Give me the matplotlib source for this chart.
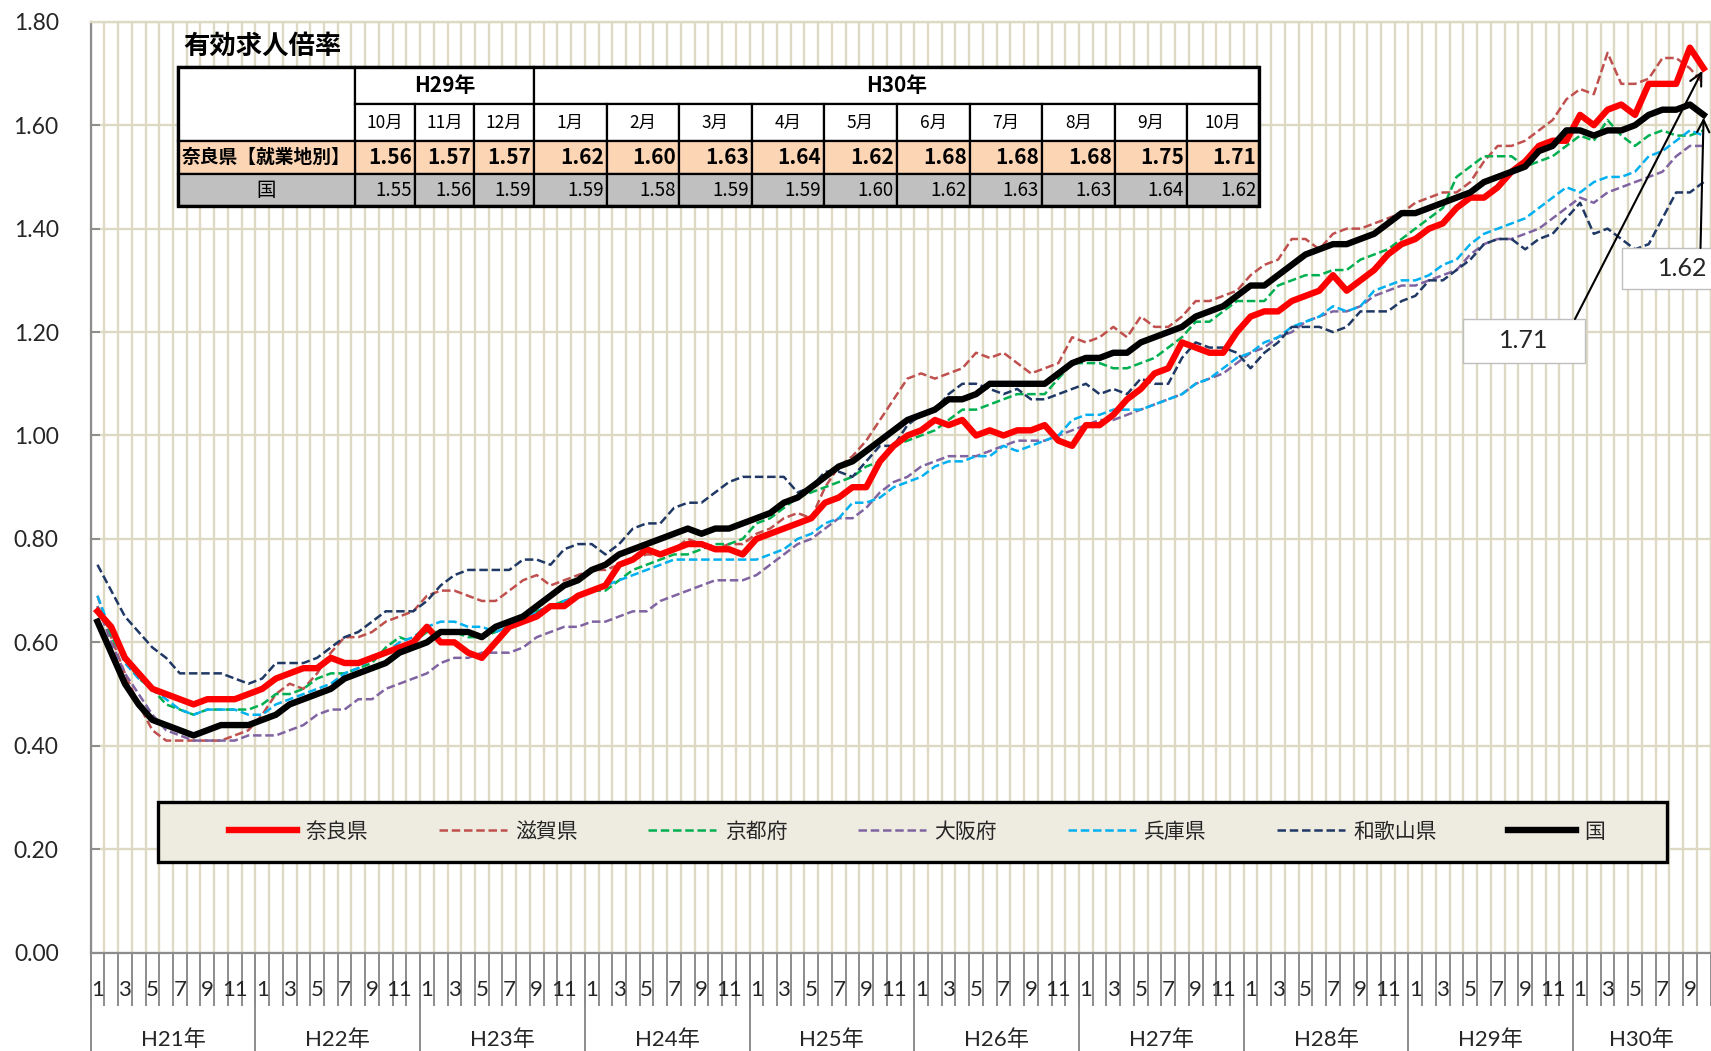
import numpy as np
import matplotlib
matplotlib.use("Agg")
import matplotlib.pyplot as plt
from matplotlib.patches import Rectangle
from matplotlib.ticker import FormatStrFormatter, FixedLocator

plt.rcParams['font.family'] = ['Lato', 'Noto Sans CJK JP', 'DejaVu Sans']
JP = ['Noto Sans CJK JP', 'DejaVu Sans']

# ---------------- data ----------------
years = ['H21年', 'H22年', 'H23年', 'H24年', 'H25年', 'H26年', 'H27年', 'H28年', 'H29年', 'H30年']
months_in_year = [12, 12, 12, 12, 12, 12, 12, 12, 12, 10]
month_numbers = [m for n in months_in_year for m in range(1, n + 1)]

nara = [0.66, 0.63, 0.57, 0.54, 0.51, 0.50, 0.49, 0.48, 0.49, 0.49, 0.49, 0.50,
        0.51, 0.53, 0.54, 0.55, 0.55, 0.57, 0.56, 0.56, 0.57, 0.58, 0.59, 0.60,
        0.63, 0.60, 0.60, 0.58, 0.57, 0.60, 0.63, 0.64, 0.65, 0.67, 0.67, 0.69,
        0.70, 0.71, 0.75, 0.76, 0.78, 0.77, 0.78, 0.79, 0.79, 0.78, 0.78, 0.77,
        0.80, 0.81, 0.82, 0.83, 0.84, 0.87, 0.88, 0.90, 0.90, 0.95, 0.98, 1.00,
        1.01, 1.03, 1.02, 1.03, 1.00, 1.01, 1.00, 1.01, 1.01, 1.02, 0.99, 0.98,
        1.02, 1.02, 1.04, 1.07, 1.09, 1.12, 1.13, 1.18, 1.17, 1.16, 1.16, 1.20,
        1.23, 1.24, 1.24, 1.26, 1.27, 1.28, 1.31, 1.28, 1.30, 1.32, 1.35, 1.37,
        1.38, 1.40, 1.41, 1.44, 1.46, 1.46, 1.48, 1.51, 1.53, 1.56, 1.57, 1.57,
        1.62, 1.60, 1.63, 1.64, 1.62, 1.68, 1.68, 1.68, 1.75, 1.71]

shiga = [0.69, 0.61, 0.54, 0.48, 0.43, 0.41, 0.41, 0.41, 0.41, 0.41, 0.42, 0.43,
         0.46, 0.50, 0.52, 0.51, 0.54, 0.58, 0.61, 0.61, 0.62, 0.64, 0.65, 0.66,
         0.69, 0.70, 0.70, 0.69, 0.68, 0.68, 0.70, 0.72, 0.73, 0.71, 0.72, 0.73,
         0.74, 0.74, 0.75, 0.76, 0.77, 0.77, 0.78, 0.80, 0.79, 0.78, 0.79, 0.79,
         0.81, 0.82, 0.84, 0.85, 0.84, 0.90, 0.94, 0.96, 0.99, 1.03, 1.07, 1.11,
         1.12, 1.11, 1.12, 1.13, 1.16, 1.15, 1.16, 1.14, 1.12, 1.13, 1.14, 1.19,
         1.18, 1.19, 1.21, 1.19, 1.23, 1.21, 1.21, 1.23, 1.26, 1.26, 1.27, 1.28,
         1.31, 1.33, 1.34, 1.38, 1.38, 1.36, 1.39, 1.40, 1.40, 1.41, 1.42, 1.43,
         1.45, 1.46, 1.47, 1.47, 1.49, 1.53, 1.56, 1.56, 1.57, 1.59, 1.61, 1.65,
         1.67, 1.66, 1.74, 1.68, 1.68, 1.69, 1.73, 1.73, 1.71, 1.68]

kyoto = [0.67, 0.61, 0.57, 0.53, 0.51, 0.48, 0.47, 0.46, 0.47, 0.47, 0.47, 0.47,
         0.48, 0.50, 0.50, 0.51, 0.53, 0.54, 0.54, 0.55, 0.56, 0.59, 0.61, 0.60,
         0.62, 0.62, 0.62, 0.61, 0.61, 0.62, 0.63, 0.64, 0.66, 0.67, 0.68, 0.69,
         0.70, 0.70, 0.72, 0.74, 0.75, 0.76, 0.77, 0.77, 0.78, 0.79, 0.79, 0.80,
         0.83, 0.84, 0.86, 0.88, 0.89, 0.90, 0.91, 0.92, 0.94, 0.95, 0.98, 0.99,
         1.00, 1.01, 1.03, 1.05, 1.05, 1.06, 1.07, 1.08, 1.08, 1.08, 1.11, 1.14,
         1.14, 1.14, 1.13, 1.13, 1.14, 1.15, 1.17, 1.19, 1.22, 1.22, 1.24, 1.26,
         1.26, 1.26, 1.29, 1.30, 1.31, 1.31, 1.32, 1.32, 1.34, 1.35, 1.36, 1.38,
         1.40, 1.42, 1.44, 1.50, 1.52, 1.54, 1.54, 1.54, 1.52, 1.53, 1.54, 1.56,
         1.58, 1.57, 1.61, 1.58, 1.56, 1.58, 1.59, 1.58, 1.58, 1.59]

osaka = [0.67, 0.60, 0.54, 0.50, 0.46, 0.43, 0.42, 0.41, 0.41, 0.41, 0.41, 0.42,
         0.42, 0.42, 0.43, 0.44, 0.46, 0.47, 0.47, 0.49, 0.49, 0.51, 0.52, 0.53,
         0.54, 0.56, 0.57, 0.57, 0.58, 0.58, 0.58, 0.59, 0.61, 0.62, 0.63, 0.63,
         0.64, 0.64, 0.65, 0.66, 0.66, 0.68, 0.69, 0.70, 0.71, 0.72, 0.72, 0.72,
         0.73, 0.75, 0.77, 0.79, 0.80, 0.82, 0.84, 0.84, 0.86, 0.89, 0.91, 0.92,
         0.94, 0.95, 0.96, 0.96, 0.96, 0.97, 0.98, 0.99, 0.99, 0.99, 1.00, 1.01,
         1.02, 1.03, 1.03, 1.04, 1.05, 1.06, 1.07, 1.08, 1.10, 1.11, 1.12, 1.14,
         1.16, 1.17, 1.19, 1.20, 1.22, 1.23, 1.24, 1.24, 1.25, 1.27, 1.28, 1.29,
         1.29, 1.30, 1.31, 1.32, 1.35, 1.37, 1.38, 1.38, 1.39, 1.40, 1.42, 1.44,
         1.46, 1.45, 1.47, 1.48, 1.49, 1.50, 1.51, 1.54, 1.56, 1.56]

hyogo = [0.69, 0.62, 0.56, 0.53, 0.51, 0.49, 0.47, 0.46, 0.47, 0.47, 0.47, 0.46,
         0.46, 0.48, 0.49, 0.50, 0.51, 0.52, 0.54, 0.55, 0.57, 0.58, 0.60, 0.61,
         0.63, 0.64, 0.64, 0.63, 0.63, 0.62, 0.63, 0.64, 0.66, 0.67, 0.68, 0.69,
         0.70, 0.71, 0.72, 0.73, 0.74, 0.75, 0.76, 0.76, 0.76, 0.76, 0.76, 0.76,
         0.76, 0.77, 0.78, 0.80, 0.81, 0.83, 0.84, 0.87, 0.87, 0.88, 0.90, 0.91,
         0.92, 0.94, 0.95, 0.95, 0.96, 0.96, 0.98, 0.97, 0.98, 0.99, 1.00, 1.03,
         1.04, 1.04, 1.05, 1.05, 1.05, 1.06, 1.07, 1.08, 1.10, 1.11, 1.13, 1.15,
         1.16, 1.18, 1.19, 1.21, 1.22, 1.23, 1.25, 1.24, 1.25, 1.28, 1.29, 1.30,
         1.30, 1.31, 1.33, 1.34, 1.37, 1.39, 1.40, 1.41, 1.42, 1.44, 1.46, 1.48,
         1.47, 1.49, 1.50, 1.50, 1.51, 1.54, 1.55, 1.57, 1.59, 1.58]

wakayama = [0.75, 0.70, 0.65, 0.62, 0.59, 0.57, 0.54, 0.54, 0.54, 0.54, 0.53, 0.52,
            0.53, 0.56, 0.56, 0.56, 0.57, 0.59, 0.61, 0.62, 0.64, 0.66, 0.66, 0.66,
            0.68, 0.71, 0.73, 0.74, 0.74, 0.74, 0.74, 0.76, 0.76, 0.75, 0.78, 0.79,
            0.79, 0.77, 0.79, 0.82, 0.83, 0.83, 0.86, 0.87, 0.87, 0.89, 0.91, 0.92,
            0.92, 0.92, 0.92, 0.89, 0.90, 0.93, 0.93, 0.92, 0.95, 0.98, 0.98, 1.02,
            1.04, 1.05, 1.08, 1.10, 1.10, 1.09, 1.08, 1.09, 1.07, 1.07, 1.08, 1.09,
            1.10, 1.08, 1.09, 1.08, 1.11, 1.10, 1.10, 1.15, 1.18, 1.17, 1.17, 1.16,
            1.13, 1.16, 1.18, 1.21, 1.21, 1.21, 1.20, 1.21, 1.24, 1.24, 1.24, 1.26,
            1.27, 1.30, 1.30, 1.32, 1.34, 1.37, 1.38, 1.38, 1.36, 1.38, 1.39, 1.42,
            1.45, 1.39, 1.40, 1.38, 1.36, 1.37, 1.42, 1.47, 1.47, 1.49]

national = [0.64, 0.58, 0.52, 0.48, 0.45, 0.44, 0.43, 0.42, 0.43, 0.44, 0.44, 0.44,
            0.45, 0.46, 0.48, 0.49, 0.50, 0.51, 0.53, 0.54, 0.55, 0.56, 0.58, 0.59,
            0.60, 0.62, 0.62, 0.62, 0.61, 0.63, 0.64, 0.65, 0.67, 0.69, 0.71, 0.72,
            0.74, 0.75, 0.77, 0.78, 0.79, 0.80, 0.81, 0.82, 0.81, 0.82, 0.82, 0.83,
            0.84, 0.85, 0.87, 0.88, 0.90, 0.92, 0.94, 0.95, 0.97, 0.99, 1.01, 1.03,
            1.04, 1.05, 1.07, 1.07, 1.08, 1.10, 1.10, 1.10, 1.10, 1.10, 1.12, 1.14,
            1.15, 1.15, 1.16, 1.16, 1.18, 1.19, 1.20, 1.21, 1.23, 1.24, 1.25, 1.27,
            1.29, 1.29, 1.31, 1.33, 1.35, 1.36, 1.37, 1.37, 1.38, 1.39, 1.41, 1.43,
            1.43, 1.44, 1.45, 1.46, 1.47, 1.49, 1.50, 1.51, 1.52, 1.55, 1.56, 1.59,
            1.59, 1.58, 1.59, 1.59, 1.60, 1.62, 1.63, 1.63, 1.64, 1.62]

series_names = ['奈良県', '滋賀県', '京都府', '大阪府', '兵庫県', '和歌山県', '国']
series_values = [nara, shiga, kyoto, osaka, hyogo, wakayama, national]
series_colors = ['#FF0000', '#C0504D', '#00B050', '#8064A2', '#00B0F0', '#1F3864', '#000000']

table_title = '有効求人倍率'
table_row_labels = ['奈良県【就業地別】', '国']
y_ticks = [0.0, 0.2, 0.4, 0.6, 0.8, 1.0, 1.2, 1.4, 1.6, 1.8]

# ---------------- figure ----------------
W, H = 1711, 1051
fig = plt.figure(figsize=(W / 100, H / 100), dpi=100)
fig.patch.set_facecolor('white')


def fx(px):
    return px / W


def fy(py):
    return 1 - py / H


ax_left, ax_right, ax_top, ax_bottom = 90.6, 1710.5, 21.8, 952.6
ax = fig.add_axes([fx(ax_left), fy(ax_bottom), fx(ax_right - ax_left), (ax_bottom - ax_top) / H])

n = len(month_numbers)
x = np.arange(n) + 0.5
TAN = '#DDD9C3'
GRAY = '#8C8C8C'

lines = []
for name, vals, col in zip(series_names, series_values, series_colors):
    if name in ('奈良県', '国'):
        ln, = ax.plot(x, vals, color=col, lw=4.6, solid_joinstyle='round', label=name, zorder=3)
    else:
        ln, = ax.plot(x, vals, color=col, lw=1.8, ls=(0, (3.4, 1.5)), dash_joinstyle='round',
                      label=name, zorder=2.5)
    lines.append(ln)

ax.set_xlim(0, n)
ax.set_ylim(0, 1.8)
ax.set_yticks(y_ticks)
ax.yaxis.set_major_formatter(FormatStrFormatter('%.2f'))
ax.set_axisbelow(True)

# category boundaries -> major ticks / vertical grid; odd month labels as minor ticks
ax.xaxis.set_major_locator(FixedLocator(np.arange(0, n + 1)))
ax.xaxis.set_minor_locator(FixedLocator(x))
ax.set_xticklabels([''] * (n + 1))
ax.set_xticklabels([str(m) if m % 2 == 1 else '' for m in month_numbers], minor=True)

ax.grid(True, which='major', axis='both', color=TAN, lw=1.7)
ax.tick_params(axis='x', which='major', direction='out', length=38, width=1.4, color=GRAY)
ax.tick_params(axis='x', which='minor', length=0, pad=19.5, labelsize=16, labelcolor='#262626')
ax.tick_params(axis='y', direction='in', length=6.5, width=1.4, color=GRAY, pad=23,
               labelsize=16.5, labelcolor='#262626')

for side in ('left', 'bottom'):
    ax.spines[side].set_color(GRAY)
    ax.spines[side].set_linewidth(1.6)
for side in ('top', 'right'):
    ax.spines[side].set_color(TAN)
    ax.spines[side].set_linewidth(1.7)

# year group labels and separators
start = 0
for yl, cnt in zip(years, months_in_year):
    ax.text(start + cnt / 2, -0.0935, yl, transform=ax.get_xaxis_transform(),
            ha='center', va='center', fontsize=16, color='#262626',
            family=['Lato', 'Noto Sans CJK JP'])
    ax.plot([start, start], [0, -0.11], transform=ax.get_xaxis_transform(),
            color=GRAY, lw=1.4, clip_on=False)
    start += cnt

# ---------------- legend ----------------
ax.add_patch(Rectangle((fx(158.2), fy(862)), fx(1667.4 - 158.2), 60 / H,
                       transform=fig.transFigure, facecolor='#EEECE1', edgecolor='black',
                       lw=2.4, zorder=4, clip_on=False))
leg = ax.legend(lines, series_names, ncol=7, mode='expand', frameon=False,
                bbox_to_anchor=(fx(229), fy(846.5), fx(1605 - 229), 30 / H),
                bbox_transform=fig.transFigure, loc='center', borderaxespad=0, borderpad=0,
                handlelength=3.27, handletextpad=0.4, prop={'family': JP, 'size': 15})
leg.set_zorder(5)
for t in leg.get_texts():
    t.set_color('#262626')

# ---------------- annotations of last values ----------------
def value_box(x0, y0, x1, y1, text, cx, cy):
    ax.add_patch(Rectangle((fx(x0), fy(y1)), fx(x1 - x0), (y1 - y0) / H,
                           transform=fig.transFigure, facecolor='white', edgecolor='#BFBFBF',
                           lw=1.0, zorder=6, clip_on=False))
    fig.text(fx(cx), fy(cy), text, ha='center', va='center', fontsize=18,
             color='#262626', zorder=7)


value_box(1463, 319, 1585, 363, f'{nara[-1]:.2f}', 1524, 341)
value_box(1622, 248, 1745, 289, f'{national[-1]:.2f}', 1683, 269)
ax.annotate('', xy=(x[-1], nara[-1]), xycoords='data',
            xytext=(fx(1575), fy(319)), textcoords='figure fraction',
            arrowprops=dict(arrowstyle='->', color='black', lw=1.5, shrinkA=0, shrinkB=2,
                            mutation_scale=22), zorder=8)
ax.annotate('', xy=(x[-1], national[-1]), xycoords='data',
            xytext=(fx(1700.5), fy(248)), textcoords='figure fraction',
            arrowprops=dict(arrowstyle='->', color='black', lw=1.5, shrinkA=0, shrinkB=2,
                            mutation_scale=22), zorder=8)

# ---------------- table ----------------
col_edges = [177.9, 354.7, 414.8, 474.3, 534.0, 606.7, 679.0, 751.8, 824.0,
             896.9, 970.0, 1042.0, 1114.7, 1187.0, 1259.4]
row_edges = [66.6, 104.0, 141.0, 174.0, 206.0]
NARA_BG = '#FCD5B4'
NAT_BG = '#C0C0C0'

k = 13
tbl_months = month_numbers[-k:]
tbl_years = [yl for yl, cnt in zip(years, months_in_year) for _ in range(cnt)][-k:]
tbl_nara = nara[-k:]
tbl_nat = national[-k:]


def cell(c0, c1, r0, r1, face):
    x0, x1 = col_edges[c0], col_edges[c1]
    y0, y1 = row_edges[r0], row_edges[r1]
    fig.patches.append(Rectangle((fx(x0), fy(y1)), fx(x1 - x0), (y1 - y0) / H,
                                 transform=fig.transFigure, facecolor=face,
                                 edgecolor='black', lw=1.6, zorder=10))


def ctext(c0, c1, r0, r1, s, ha='center', **kw):
    x0, x1 = col_edges[c0], col_edges[c1]
    yc = (row_edges[r0] + row_edges[r1]) / 2
    xc = (x0 + x1) / 2 if ha == 'center' else x1 - 3
    fig.text(fx(xc), fy(yc), s, ha=ha, va='center', family=JP, zorder=11, **kw)


# label column (header merged)
cell(0, 1, 0, 2, 'white')
# year headers
groups = []
for j, yl in enumerate(tbl_years):
    if groups and groups[-1][0] == yl:
        groups[-1][2] = j + 1
    else:
        groups.append([yl, j, j + 1])
for yl, a, b in groups:
    cell(a + 1, b + 1, 0, 1, 'white')
    ctext(a + 1, b + 1, 0, 1, yl, fontsize=15, weight='bold')
for j in range(k):
    cell(j + 1, j + 2, 1, 2, 'white')
    ctext(j + 1, j + 2, 1, 2, f'{tbl_months[j]}月', fontsize=12.5)
    cell(j + 1, j + 2, 2, 3, NARA_BG)
    ctext(j + 1, j + 2, 2, 3, f'{tbl_nara[j]:.2f}', ha='right', fontsize=15, weight='bold')
    cell(j + 1, j + 2, 3, 4, NAT_BG)
    ctext(j + 1, j + 2, 3, 4, f'{tbl_nat[j]:.2f}', ha='right', fontsize=13.5)
cell(0, 1, 2, 3, NARA_BG)
ctext(0, 1, 2, 3, table_row_labels[0], fontsize=13.5, weight='bold')
cell(0, 1, 3, 4, NAT_BG)
ctext(0, 1, 3, 4, table_row_labels[1], fontsize=14)
fig.patches.append(Rectangle((fx(col_edges[0]), fy(row_edges[-1])), fx(col_edges[-1] - col_edges[0]),
                             (row_edges[-1] - row_edges[0]) / H, transform=fig.transFigure,
                             facecolor='none', edgecolor='black', lw=2.4, zorder=12))

fig.text(fx(183), fy(46), table_title, ha='left', va='center', fontsize=19, weight='bold',
         family=JP, color='black')

fig.savefig('out.png', dpi=100)
